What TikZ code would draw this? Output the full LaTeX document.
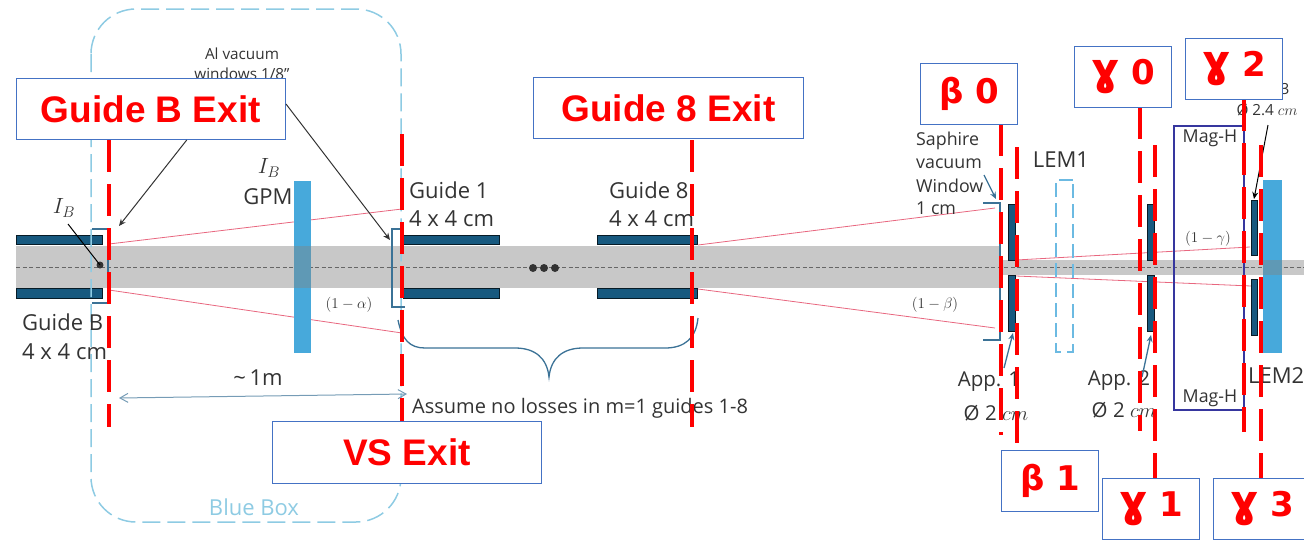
\RequirePackage{fix-cm}
\documentclass[tikz,border=0pt]{standalone}
\usepackage{fontspec}
\setmainfont{Open Sans}
\newfontfamily\exitfont{Liberation Sans}
\newfontfamily\greekfont{DejaVu Sans}
\usetikzlibrary{arrows.meta}
\newcommand{\biggam}{{\fontsize{44}{40}\selectfont ɣ}}
\definecolor{guideblue}{HTML}{17597F}
\definecolor{beamgray}{HTML}{C8C8C8}
\definecolor{lemblue}{HTML}{47A9DB}
\definecolor{lemdark}{HTML}{5F99B5}
\definecolor{boxblue}{HTML}{8ECBE3}
\definecolor{framblue}{HTML}{4472C4}
\definecolor{rayred}{HTML}{E8677F}
\definecolor{leadblue}{HTML}{3B7296}
\definecolor{magblue}{HTML}{36369E}
\definecolor{labgray}{HTML}{333333}
\tikzset{
	cutline/.style={draw=red, line width=4pt, dash pattern=on 32pt off 12pt},
	exitbox/.style={draw=framblue, fill=white, line width=1pt, anchor=north west, inner sep=0pt, text=red, font=\exitfont\bfseries\fontsize{37}{40}\selectfont},
	greekbox/.style={exitbox, minimum width=97pt, minimum height=61pt, font=\greekfont\bfseries\fontsize{34}{40}\selectfont},
	lab/.style={inner sep=0pt, text=labgray, font=\fontsize{22}{26}\selectfont},
	applab/.style={lab, font=\fontsize{20.5}{24}\selectfont},
	smalllab/.style={lab, font=\fontsize{17.8}{20}\selectfont},
	tinylab/.style={lab, font=\fontsize{15.3}{18}\selectfont},
	losslab/.style={lab, font=\fontsize{15}{18}\selectfont},
	lead/.style={draw=leadblue, line width=1.3pt},
	ray/.style={draw=rayred, line width=0.8pt},
	guidebar/.style={draw=black!70!guideblue, fill=guideblue, line width=0.8pt},
}
\begin{document}
\begin{tikzpicture}[x=1pt,y=-1pt]
	\useasboundingbox (0,0) rectangle (1304,544);

	%%%%% BEAM %%%%%
	\fill[beamgray] (16,246) rectangle (1001,288);
	\fill[beamgray] (1001,260) rectangle (1304,275);
	\draw[black!60, line width=0.5pt, dash pattern=on 4pt off 2.5pt] (16,267.5) -- (1304,267.5);

	%%%%% GUIDES %%%%%
	\foreach \xa/\xb in {16/102,403/499,597/697}{
		\draw[guidebar] (\xa,235) rectangle (\xb,244);
		\draw[guidebar] (\xa,288.5) rectangle (\xb,298);
	}
	\foreach \xc in {533,544,555}
		\fill[labgray] (\xc,268) circle (4);

	%%%%% RAYS %%%%%
	\draw[ray] (109,244) -- (402,209);
	\draw[ray] (109,290) -- (402,333);
	\draw[ray] (698,245) -- (995,208);
	\draw[ray] (698,289) -- (995,328);
	\draw[ray] (1016,260) -- (1250,247);
	\draw[ray] (1016,276) -- (1251,286);

	%%%%% BLUE BOX, LEMS %%%%%
	\draw[boxblue, line width=1.5pt, dash pattern=on 18pt off 7pt, rounded corners=45pt] (91,9) rectangle (401,522);
	\fill[lemblue] (294,181) rectangle (311,353);
	\fill[lemdark] (294,246) rectangle (311,288);
	\fill[lemblue] (1263,180) rectangle (1282,353);
	\fill[lemdark] (1263,260) rectangle (1282,275);
	\draw[lemblue!80, line width=1.5pt, dash pattern=on 14pt off 6pt] (1073,180) -- (1056,180) -- (1056,352) -- (1073,352) -- cycle;

	%%%%% MAGNET %%%%%
	\draw[magblue, line width=1.5pt] (1174,126) rectangle (1244,410);

	%%%%% WINDOWS AND APERTURES %%%%%
	\draw[lead] (92,229) -- (108,229) -- (108,303) -- (92,303);
	\draw[lead] (403,229) -- (392,229) -- (392,307) -- (405,307);
	\draw[lead] (983,203) -- (1000,203) -- (1000,340) -- (983,340);
	\foreach \xa/\xb in {1008/1015,1147/1154}{
		\draw[guidebar] (\xa,204) rectangle (\xb,260);
		\draw[guidebar] (\xa,275) rectangle (\xb,331);
	}
	\draw[guidebar] (1251,200) rectangle (1257,255);
	\draw[guidebar] (1251,279) rectangle (1257,335);

	\draw[lead] (398,320) .. controls (402,340) and (410,348) .. (425,348) -- (515,348)
		.. controls (535,348) and (547,358) .. (549,377)
		.. controls (551,358) and (563,348) .. (583,348) -- (665,348)
		.. controls (685,348) and (696,338) .. (698,318);

	%%%%% LABELS %%%%%
	\node[tinylab] (alvac) at (242,54) {Al vacuum};
	\node[tinylab] (alwin) at (242,74) {windows 1/8"};
	\node[lab] (ibA) at (64,208) {$I_B$};
	\coordinate (ibDot) at (100,265);
	\fill[labgray] (ibDot) circle (3.5);
	\draw[black, line width=1pt] (68,224) -- (ibDot);
	\node[lab] (ibB) at (269,168) {$I_B$};
	\node[lab] (gpm) at (268,197) {GPM};
	\node[lab, anchor=west] (gdOneA) at (409,190) {Guide 1};
	\node[lab, anchor=west] (gdOneB) at (409,219) {4 x 4 cm};
	\node[lab, anchor=west] (gdEightA) at (609,190) {Guide 8};
	\node[lab, anchor=west] (gdEightB) at (609,219) {4 x 4 cm};
	\node[lab, anchor=west] (gdBA) at (22,322) {Guide B};
	\node[lab, anchor=west] (gdBB) at (22,352) {4 x 4 cm};
	\node[losslab] (lossA) at (349,305) {$(1-\alpha)$};
	\node[losslab] (lossB) at (935,305) {$(1-\beta)$};
	\node[losslab] (lossG) at (1208,239) {$(1-\gamma)$};
	\node[lab] (metre) at (258,378) {\textasciitilde\,1m};
	\node[lab, anchor=west, font=\fontsize{20}{24}\selectfont] (assume) at (412,408) {Assume no losses in m=1 guides 1-8};
	\node[lab, text=boxblue] (bluebox) at (254,507) {Blue Box};
	\node[smalllab, anchor=west] (saphA) at (916,141) {Saphire};
	\node[smalllab, anchor=west] (saphB) at (916,164) {vacuum};
	\node[smalllab, anchor=west] (saphC) at (916,186) {Window};
	\node[smalllab, anchor=west] (saphD) at (916,208) {1 cm};
	\node[lab] (lemone) at (1061,160) {LEM1};
	\node[lab, anchor=west] (lemtwo) at (1248,376) {LEM2};
	\node[applab] (appone) at (989,382) {App. 1};
	\node[applab] (appdone) at (996,413) {Ø 2 $cm$};
	\node[applab] (apptwo) at (1119,381) {App. 2};
	\node[applab] (appdtwo) at (1124,410) {Ø 2 $cm$};
	\node[smalllab] (magA) at (1210,138) {Mag-H};
	\node[smalllab] (magB) at (1210,398) {Mag-H};
	\node[tinylab] (appthree) at (1285,89) {3};
	\node[tinylab] (appdthree) at (1267,110) {Ø 2.4 $cm$};

	%%%%% ARROWS %%%%%
	\draw[leadblue!70, line width=1pt, {Straight Barb[length=8pt,width=9pt]}-{Straight Barb[length=8pt,width=9pt]}] (119,398) -- (407,394);
	\draw[leadblue, line width=1.3pt, -{Stealth[length=7pt,width=6pt]}] (984,175) -- (996,199);
	\draw[leadblue, line width=1.3pt, -{Stealth[length=7pt,width=6pt]}] (1004,368) -- (1013,333);
	\draw[leadblue, line width=1.3pt, -{Stealth[length=7pt,width=6pt]}] (1142,377) -- (1151,335);
	\draw[black, line width=1pt, -{Stealth[length=7pt,width=6pt]}] (1268,125) -- (1254,199);

	%%%%% CUTS %%%%%
	\draw[cutline] (109,140) -- (109,427);
	\draw[cutline] (402,134) -- (402,421);
	\draw[cutline] (692,140) -- (692,427);
	\draw[cutline] (1001,124) -- (1001,435);
	\draw[cutline] (1016.5,147) -- (1016.5,444);
	\draw[cutline] (1140,107) -- (1140,431);
	\draw[cutline] (1155,145) -- (1155,478);
	\draw[cutline] (1244,99) -- (1244,432);
	\draw[cutline] (1261,145) -- (1261,478);

	%%%%% EXIT BOXES %%%%%
	\node[exitbox, minimum width=269.5pt, minimum height=61pt] (guideBbox) at (15.5,78) {Guide B Exit};
	\node[exitbox, minimum width=270pt, minimum height=61pt] (guideEbox) at (533,77) {Guide 8 Exit};
	\node[exitbox, minimum width=269pt, minimum height=62pt] (vsbox) at (272,421) {VS Exit};
	\node[greekbox] (bzero) at (920,63) {β 0};
	\node[greekbox] (bone) at (1001,450) {β 1};
	\node[greekbox] (gzero) at (1074,46) {\biggam\ 0};
	\node[greekbox] (gone) at (1102,478) {\biggam\ 1};
	\node[greekbox] (gtwo) at (1185,38) {\biggam\ 2};
	\node[greekbox] (gthree) at (1213,478) {\biggam\ 3};

	\draw[black!80, line width=1pt, -{Stealth[length=7pt,width=6pt]}] ([xshift=36pt]guideBbox.south) -- (119,226);
	\draw[black!80, line width=1pt, -{Stealth[length=7pt,width=6pt]}] ([yshift=5pt]guideBbox.east) -- (390,240);
\end{tikzpicture}
\end{document}
